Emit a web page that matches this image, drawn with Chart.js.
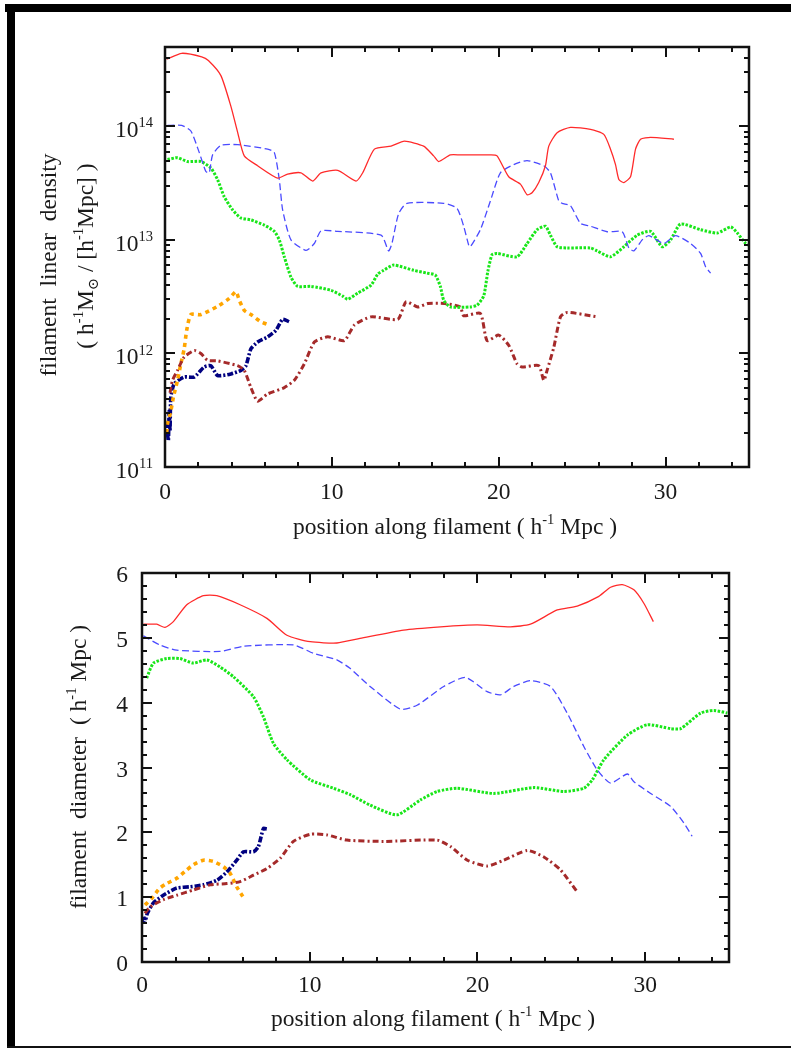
<!DOCTYPE html>
<html><head><meta charset="utf-8">
<script src="https://cdn.jsdelivr.net/npm/chart.js@4.4.1/dist/chart.umd.min.js"></script>
<style>
html,body{margin:0;padding:0;background:#fff;}
#wrap{position:relative;width:791px;height:1049px;overflow:hidden;background:#fff;}
.fr{position:absolute;background:#000;}
canvas{position:absolute;left:0;top:0;}
</style></head>
<body>
<div id="wrap">
<div class="fr" style="left:5px;top:4px;width:786px;height:8px;"></div>
<div class="fr" style="left:7px;top:4px;width:8px;height:1044px;"></div>
<div class="fr" style="left:7px;top:1046px;width:784px;height:2px;background:#111;"></div>
<canvas id="top" width="791" height="1049"></canvas>
<canvas id="bot" width="791" height="1049"></canvas>
</div>
<script>
// ---------- tick labels ----------
const xTickValues = [0, 10, 20, 30];
const xTickLabels = ['0', '10', '20', '30'];
const densityTickExps = [11, 12, 13, 14];
const diamTickValues = [0, 1, 2, 3, 4, 5, 6];
const diamTickLabels = ['0', '1', '2', '3', '4', '5', '6'];

// ---------- top panel: linear density ----------
const redDensX = [0.1,1.0,2.2,2.6,3.35,3.95,4.35,4.75,5.55,6.75,7.35,8.15,8.85,9.35,10.35,11.45,11.85,12.55,13.55,14.35,15.5,16.1,16.4,17.1,17.7,19.5,19.9,20.6,21.3,21.7,22.0,22.4,22.8,23.0,23.5,24.3,25.5,26.3,26.7,27.0,27.2,27.5,27.9,28.2,28.5,29.1,30.5];
const redDensY = [3.9e14,4.4e14,4.1e14,3.8e14,2.8e14,1.5e14,8.9e13,5.5e13,4.5e13,3.5e13,3.8e13,3.9e13,3.3e13,3.9e13,4.1e13,3.3e13,3.9e13,6.3e13,6.7e13,7.4e13,6.7e13,5.5e13,4.9e13,5.6e13,5.6e13,5.6e13,5.5e13,3.6e13,3.1e13,2.5e13,2.6e13,3.2e13,4.5e13,6.7e13,8.8e13,9.8e13,9.4e13,8.5e13,6.3e13,4.6e13,3.4e13,3.2e13,3.6e13,6.3e13,7.7e13,8.0e13,7.7e13];

const blueDensX = [0.15,1.0,1.55,2.05,2.45,2.65,2.85,3.35,4.35,6.15,6.55,6.85,7.05,7.55,8.45,8.95,9.35,10.35,12.95,13.4,13.6,14.0,14.5,16.7,17.5,17.9,18.2,18.3,18.9,19.5,20.1,20.9,21.7,22.7,23.1,23.6,23.8,24.3,24.9,25.5,26.5,27.4,27.8,28.1,28.6,29.0,29.9,30.6,31.5,32.1,32.4,32.7];
const blueDensY = [1.02e14,1.02e14,9.1e13,5.9e13,4.0e13,3.9e13,5.6e13,6.8e13,6.9e13,6.3e13,5.9e13,3.4e13,1.84e13,1.0e13,8.1e12,9.3e12,1.2e13,1.19e13,1.1e13,8.0e12,9.3e12,1.7e13,2.1e13,2.1e13,1.9e13,1.32e13,9.0e12,8.7e12,1.23e13,2.2e13,3.9e13,4.6e13,5.0e13,4.5e13,3.9e13,2.2e13,2.1e13,2.0e13,1.4e13,1.32e13,1.18e13,1.18e13,8.5e12,8.0e12,1.0e13,1.09e13,9.3e12,1.09e13,9.3e12,7.6e12,5.8e12,5.1e12];

const greenDensX = [0.15,0.75,1.35,2.15,2.75,3.15,3.55,4.05,4.55,5.15,5.95,6.55,6.85,7.15,7.55,7.95,8.75,9.95,10.65,10.95,11.55,12.35,12.75,13.1,13.7,14.9,15.7,16.2,16.5,16.7,17.1,18.3,18.7,19.1,19.35,19.6,19.9,21.1,21.7,22.3,22.8,23.1,23.5,24.1,25.5,25.9,26.7,27.5,28.3,29.1,29.8,30.3,30.9,32.1,33.1,33.9,34.3,34.8,35.0];
const greenDensY = [5.1e13,5.3e13,4.9e13,4.9e13,4.3e13,3.4e13,2.4e13,1.84e13,1.56e13,1.5e13,1.35e13,1.19e13,1.0e13,7.1e12,4.7e12,3.9e12,3.9e12,3.6e12,3.2e12,3.0e12,3.4e12,4.0e12,5.0e12,5.4e12,6.0e12,5.4e12,5.1e12,4.9e12,3.9e12,2.95e12,2.57e12,2.57e12,2.66e12,3.2e12,5.3e12,7.4e12,7.6e12,7.1e12,9.3e12,1.23e13,1.32e13,1.1e13,8.7e12,8.5e12,8.5e12,8.0e12,7.1e12,8.7e12,1.1e13,1.19e13,8.7e12,1.0e13,1.38e13,1.23e13,1.15e13,1.3e13,1.15e13,9.3e12,9.0e12];

const darkredDensX = [0.3,0.45,0.75,1.15,1.75,2.15,2.55,3.15,4.35,4.75,5.15,5.55,6.15,7.15,7.75,8.35,8.95,9.75,10.75,11.35,12.35,13.95,14.45,15.15,15.75,16.75,17.7,17.9,18.9,19.3,20.0,20.6,21.1,21.4,22.4,22.7,22.9,23.3,23.7,24.1,25.9];
const darkredDensY = [4.5e11,5.8e11,7.1e11,9.3e11,1.06e12,1.0e12,8.7e11,8.6e11,7.8e11,7.1e11,5.0e11,3.8e11,4.4e11,5.0e11,5.8e11,8.1e11,1.26e12,1.4e12,1.3e12,1.78e12,2.1e12,2.0e12,2.85e12,2.57e12,2.75e12,2.75e12,2.57e12,2.15e12,2.25e12,1.3e12,1.45e12,1.18e12,8.1e11,7.6e11,7.8e11,5.8e11,7.1e11,1.13e12,2.1e12,2.3e12,2.1e12];

const orangeDensX = [0.1,0.15,0.35,0.5,0.75,0.95,1.15,1.3,1.55,2.15,3.15,3.85,4.25,4.45,4.75,5.15,5.75,6.25];
const orangeDensY = [2.0e11,2.4e11,3.1e11,4.1e11,5.8e11,8.1e11,1.1e12,1.6e12,2.2e12,2.2e12,2.6e12,3.05e12,3.5e12,2.95e12,2.4e12,2.2e12,1.9e12,1.78e12];

const navyDensX = [0.1,0.2,0.25,0.3,0.35,0.55,1.15,1.75,2.35,2.75,3.15,3.95,4.55,4.85,5.15,5.55,6.15,6.65,7.05,7.45];
const navyDensY = [2.5e11,1.7e11,3.1e11,2.1e11,4.1e11,5.4e11,6.2e11,6.2e11,7.6e11,7.8e11,6.4e11,6.6e11,7.1e11,7.8e11,1.1e12,1.26e12,1.4e12,1.6e12,2.0e12,1.9e12];

// ---------- bottom panel: diameter ----------
const redDiamX = [0.08,0.88,1.37,1.87,2.67,3.66,4.46,5.85,7.45,8.64,10.03,11.62,13.0,15.6,17.8,19.98,21.97,23.16,24.76,25.95,27.24,27.94,28.64,29.33,29.93,30.49];
const redDiamY = [5.21,5.21,5.16,5.25,5.51,5.65,5.65,5.51,5.30,5.04,4.94,4.92,4.99,5.12,5.17,5.20,5.17,5.21,5.43,5.49,5.64,5.78,5.82,5.74,5.53,5.25];

const blueDiamX = [0.08,1.07,2.07,4.66,6.05,9.03,10.23,11.62,12.4,13.6,15.4,16.4,17.99,19.28,20.58,21.37,22.17,23.16,24.36,25.35,26.35,27.15,27.94,28.94,29.33,30.33,31.52,32.32,32.8];
const blueDiamY = [5.03,4.89,4.81,4.79,4.87,4.89,4.76,4.66,4.53,4.25,3.90,3.96,4.25,4.39,4.17,4.12,4.25,4.34,4.25,3.84,3.32,2.96,2.76,2.90,2.78,2.60,2.40,2.14,1.94];

const greenDiamX = [0.28,0.68,1.47,2.27,3.06,3.86,4.66,5.45,6.65,7.24,7.84,8.64,10.03,11.42,12.42,13.6,15.2,16.6,17.6,18.8,20.97,23.36,25.15,26.35,26.85,27.54,28.94,30.13,31.52,32.12,33.31,34.1,34.9];
const greenDiamY = [4.38,4.61,4.68,4.68,4.61,4.66,4.55,4.40,4.09,3.78,3.37,3.12,2.81,2.68,2.58,2.42,2.27,2.50,2.63,2.68,2.60,2.69,2.63,2.68,2.81,3.12,3.50,3.66,3.60,3.60,3.84,3.88,3.84];

const darkredDiamX = [0.18,0.48,1.27,2.07,3.06,4.06,5.06,5.85,6.65,7.44,8.24,9.03,10.03,11.03,12.22,14.4,17.6,18.4,19.4,20.58,21.57,22.97,23.96,24.96,25.95];
const darkredDiamY = [0.75,0.85,0.96,1.03,1.11,1.19,1.21,1.24,1.34,1.44,1.60,1.86,1.97,1.96,1.88,1.86,1.88,1.78,1.57,1.48,1.57,1.72,1.62,1.42,1.08];

const orangeDiamX = [0.18,0.58,1.07,1.47,2.07,2.67,3.06,3.66,4.26,4.86,5.25,5.65,6.01];
const orangeDiamY = [0.88,0.98,1.14,1.21,1.29,1.42,1.50,1.57,1.55,1.47,1.37,1.16,1.01];

const navyDiamX = [0.1,0.18,0.32,0.68,1.27,2.07,2.87,3.66,4.46,5.06,5.65,6.05,6.65,6.94,7.24,7.44];
const navyDiamY = [0.7,0.62,0.75,0.91,1.03,1.14,1.16,1.19,1.26,1.39,1.57,1.70,1.70,1.78,2.06,2.05];

// ---------- helpers ----------
const FONT = '"Liberation Serif","Times New Roman","DejaVu Serif",serif';
const TXT = '#1a1a1a';
function pts(xs, ys){ return xs.map((x,i)=>({x:x, y:ys[i]})); }

const STYLES = {
  red:     {color:'#ff2a2a', width:1.3, dash:[]},
  blue:    {color:'#4a4aff', width:1.3, dash:[7,3.5]},
  green:   {color:'#19e619', width:3, dash:[2.5,1.5]},
  darkred: {color:'#a52a2a', width:3, dash:[6,3,2,3]},
  orange:  {color:'#ffa500', width:3.6, dash:[4,4]},
  navy:    {color:'#000080', width:3.6, dash:[6,2,2,2]}
};
function ds(name, xs, ys){
  const s = STYLES[name];
  return {label:name, data:pts(xs,ys), borderColor:s.color, borderWidth:s.width, borderDash:s.dash,
          pointRadius:0, fill:false, tension:0.2, borderCapStyle:'butt', borderJoinStyle:'round'};
}

// rich text: parts = [[text, mode]], mode '', 'sup', 'sub'
function richWidth(ctx, parts, size){
  let w=0;
  for(const [t,m] of parts){ const s = m ? size*0.62 : size; ctx.font = s+'px '+FONT; w += ctx.measureText(t).width; }
  return w;
}
function drawRich(ctx, parts, x, y, size, align){
  const w = richWidth(ctx, parts, size);
  let cx = align==='center' ? x - w/2 : (align==='right' ? x - w : x);
  ctx.textAlign='left'; ctx.textBaseline='alphabetic';
  for(const [t,m] of parts){
    const s = m ? size*0.62 : size;
    ctx.font = s+'px '+FONT;
    const dy = m==='sup' ? -size*0.42 : (m==='sub' ? size*0.2 : 0);
    ctx.fillText(t, cx, y+dy);
    cx += ctx.measureText(t).width;
  }
}
function drawRotated(ctx, parts, cx, cy, size){
  ctx.save(); ctx.translate(cx, cy); ctx.rotate(-Math.PI/2);
  drawRich(ctx, parts, 0, 0, size, 'center');
  ctx.restore();
}

function framePlugin(cfg){
  return {
    id:'frame_'+cfg.name,
    afterDraw(chart){
      const ctx = chart.ctx, a = chart.chartArea, xs = chart.scales.x, ys = chart.scales.y;
      ctx.save();
      ctx.strokeStyle = '#111'; ctx.lineWidth = 2; ctx.lineCap='butt';
      const MAJ = 10, MIN = 5;
      // x ticks (major every 10, minor every 2)
      for(let v=0; v<=35; v+=2){
        const px = Math.round(xs.getPixelForValue(v));
        const len = (v%10===0) ? MAJ : MIN;
        if(px<=a.left+1 || px>=a.right-1) continue;
        ctx.beginPath(); ctx.moveTo(px, a.bottom); ctx.lineTo(px, a.bottom-len);
        ctx.moveTo(px, a.top); ctx.lineTo(px, a.top+len); ctx.stroke();
      }
      xTickValues.forEach((v,i)=>{
        const px = Math.round(xs.getPixelForValue(v));
        ctx.beginPath(); ctx.moveTo(px, a.bottom); ctx.lineTo(px, a.bottom-MAJ);
        ctx.moveTo(px, a.top); ctx.lineTo(px, a.top+MAJ); ctx.stroke();
      });
      // y ticks
      const yTicks = cfg.yTicks(ys);
      for(const t of yTicks){
        const py = Math.round(t.px);
        if(py<a.top-0.5 || py>a.bottom+0.5) continue;
        const len = t.major ? MAJ : MIN;
        ctx.beginPath(); ctx.moveTo(a.left, py); ctx.lineTo(a.left+len, py);
        ctx.moveTo(a.right, py); ctx.lineTo(a.right-len, py); ctx.stroke();
      }
      // box
      ctx.lineWidth = 2.5;
      ctx.strokeRect(a.left, a.top, a.right-a.left, a.bottom-a.top);
      // labels
      ctx.fillStyle = TXT;
      const FS = cfg.fs;
      xTickValues.forEach((v,i)=>{
        drawRich(ctx, [[xTickLabels[i],'']], xs.getPixelForValue(v), a.bottom+cfg.xLabOff, FS, 'center');
      });
      cfg.yLabels(ctx, ys, a, FS);
      // titles
      drawRich(ctx, cfg.xTitle, cfg.xTitlePos[0], cfg.xTitlePos[1], FS, 'center');
      cfg.yTitles.forEach(tt=> drawRotated(ctx, tt.parts, tt.x, tt.y, FS));
      ctx.restore();
    }
  };
}

function makeChart(id, datasets, yScale, padding, plugin){
  return new Chart(document.getElementById(id), {
    type:'line',
    data:{datasets},
    options:{
      responsive:false, animation:false, events:[],
      layout:{padding},
      plugins:{legend:{display:false}, tooltip:{enabled:false}},
      scales:{
        x:{type:'linear', min:0, max:35, display:false},
        y:Object.assign({display:false}, yScale)
      }
    },
    plugins:[plugin]
  });
}

const FS = 23.5;
// ---------- top chart ----------
const posTitle = [['position along filament ( h',''],['-1','sup'],[' Mpc )','']];
makeChart('top', [
  ds('red', redDensX, redDensY),
  ds('blue', blueDensX, blueDensY),
  ds('green', greenDensX, greenDensY),
  ds('darkred', darkredDensX, darkredDensY),
  ds('orange', orangeDensX, orangeDensY),
  ds('navy', navyDensX, navyDensY)
], {type:'logarithmic', min:1e11, max:5e14},
{left:165, top:47, right:42, bottom:582},
framePlugin({
  name:'top', fs:FS, xLabOff:32,
  yTicks:(ys)=>{
    const out=[];
    for(let e=11; e<=14; e++){
      for(let m=1; m<=9; m++){
        const v = m*Math.pow(10,e);
        if(v>5e14) break;
        out.push({px:ys.getPixelForValue(v), major:m===1});
      }
    }
    return out;
  },
  yLabels:(ctx, ys, a, FS)=>{
    densityTickExps.forEach(e=>{
      const py = ys.getPixelForValue(Math.pow(10,e));
      drawRich(ctx, [['10',''],[String(e),'sup']], a.left-12, py+11, FS, 'right');
    });
  },
  xTitle: posTitle, xTitlePos:[455, 534],
  yTitles:[
    {parts:[['filament  linear  density','']], x:56, y:265},
    {parts:[['( h',''],['-1','sup'],['M',''],['\u2299','sub'],[' / [h',''],['-1','sup'],['Mpc] )','']], x:93, y:256}
  ]
}));

// ---------- bottom chart ----------
makeChart('bot', [
  ds('red', redDiamX, redDiamY),
  ds('blue', blueDiamX, blueDiamY),
  ds('green', greenDiamX, greenDiamY),
  ds('darkred', darkredDiamX, darkredDiamY),
  ds('orange', orangeDiamX, orangeDiamY),
  ds('navy', navyDiamX, navyDiamY)
], {type:'linear', min:0, max:6},
{left:142, top:573, right:62, bottom:87},
framePlugin({
  name:'bot', fs:FS, xLabOff:30,
  yTicks:(ys)=>{
    const out=[];
    for(let k=0; k<=30; k++){ out.push({px:ys.getPixelForValue(k*0.2), major:k%5===0}); }
    return out;
  },
  yLabels:(ctx, ys, a, FS)=>{
    diamTickValues.forEach((v,i)=>{
      drawRich(ctx, [[diamTickLabels[i],'']], a.left-14, ys.getPixelForValue(v)+9, FS, 'right');
    });
  },
  xTitle: posTitle, xTitlePos:[433, 1026],
  yTitles:[
    {parts:[['filament  diameter  ( h',''],['-1','sup'],[' Mpc )','']], x:86, y:767}
  ]
}));
</script>
</body></html>
